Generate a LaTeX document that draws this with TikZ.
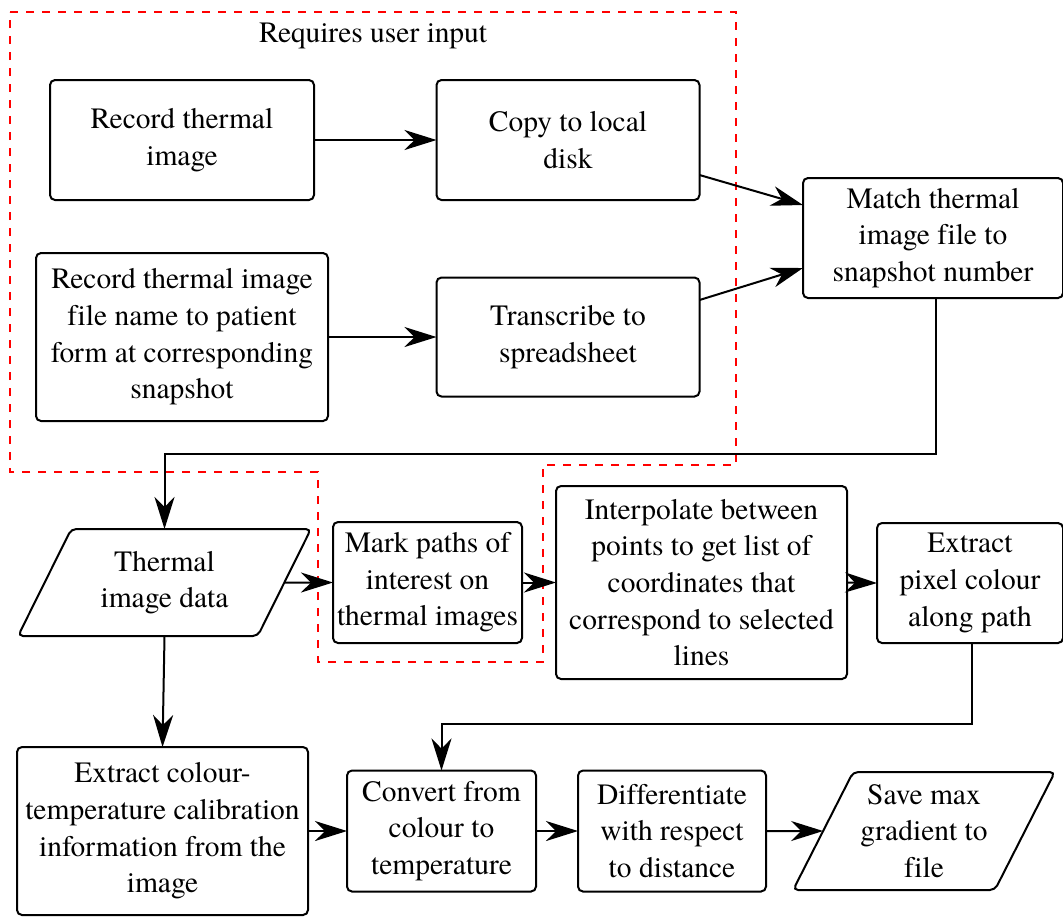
\documentclass[tikz,border=0pt]{standalone}
\usepackage{fontspec}
\setmainfont{texgyretermes}[Extension=.otf, UprightFont=*-regular, BoldFont=*-bold, ItalicFont=*-italic, BoldItalicFont=*-bolditalic, Ligatures=NoCommon]
\usetikzlibrary{arrows.meta,shapes.geometric}
\begin{document}
\begin{tikzpicture}[x=0.5pt,y=-0.5pt,
  every node/.style={font=\fontsize{14.75pt}{18.3pt}\selectfont, align=center, inner sep=0pt, outer sep=0pt},
  box/.style={draw, line width=1pt, rounded corners=2.5pt, rectangle},
  para/.style={draw, line width=1pt, rounded corners=2.5pt, trapezium, trapezium left angle=60, trapezium right angle=120, trapezium stretches=true},
  conn/.style={line width=1pt, -{Stealth[length=16pt,width=10pt,inset=5pt]}},
  region/.style={draw=red, line width=0.8pt, dash pattern=on 4pt off 4pt}
]
\useasboundingbox (0,0) rectangle (1063,918);
% user-input region
\draw[region] (10,12) -- (736,12) -- (736,465) -- (543,465) -- (543,662) -- (318,662) -- (318,472) -- (10,472) -- cycle;
\node (title) at (373,36) {Requires user input};
% nodes
\node[box, minimum width=132pt, minimum height=60pt] (n1) at (182,140) {Record thermal\\image};
\node[box, minimum width=131.5pt, minimum height=60pt] (n2) at (568,140) {Copy to local\\disk};
\node[box, minimum width=146pt, minimum height=84pt] (n3) at (182,337) {Record thermal image\\file name to patient\\form at corresponding\\snapshot};
\node[box, minimum width=131.5pt, minimum height=59.5pt] (n4) at (568,337) {Transcribe to\\spreadsheet};
\node[box, minimum width=130pt, minimum height=60pt] (n5) at (933,238) {Match thermal\\image file to\\snapshot number};
\node[para, minimum width=147.5pt, minimum height=53.5pt] (n6) at (164.5,582.5) {Thermal\\image data};
\node[box, minimum width=94.5pt, minimum height=60.5pt] (n7) at (427.5,582.5) {Mark paths of\\interest on\\thermal images};
\node[box, minimum width=145.5pt, minimum height=96.5pt] (n8) at (701.5,582.5) {Interpolate between\\points to get list of\\coordinates that\\correspond to selected\\lines};
\node[box, minimum width=93pt, minimum height=60pt] (n9) at (970,583) {Extract\\pixel colour\\along path};
\node[box, minimum width=145.5pt, minimum height=84pt] (n10) at (162.5,831) {Extract colour-\\temperature calibration\\information from the\\image};
\node[box, minimum width=94.5pt, minimum height=60.5pt] (n11) at (441.5,831) {Convert from\\colour to\\temperature};
\node[box, minimum width=94pt, minimum height=60.5pt] (n12) at (672,831) {Differentiate\\with respect\\to distance};
\node[para, minimum width=131pt, minimum height=59pt] (n13) at (924,831) {Save max\\gradient to\\file};
% connectors
\draw[conn] (n1.east) -- (n2.west);
\draw[conn] (n3.east) -- (n4.west);
\draw[conn] ([yshift=-17.5pt]n2.east) -- ([yshift=16.5pt]n5.west);
\draw[conn] ([yshift=18.5pt]n4.east) -- ([yshift=-15pt]n5.west);
\draw[conn] ([xshift=1.5pt]n5.south) -- ++(0,156) -| (n6.north);
\draw[conn] (n6.east) -- (n7.west);
\draw[conn] (n7.east) -- (n8.west);
\draw[conn] (n8.east) -- (n9.west);
\draw[conn] ([xshift=1pt]n9.south) -- ++(0,81) -| (n11.north);
\draw[conn] (n6.south) -- (n10.north);
\draw[conn] (n10.east) -- (n11.west);
\draw[conn] (n11.east) -- (n12.west);
\draw[conn] (n12.east) -- (n13.west);
\end{tikzpicture}
\end{document}
